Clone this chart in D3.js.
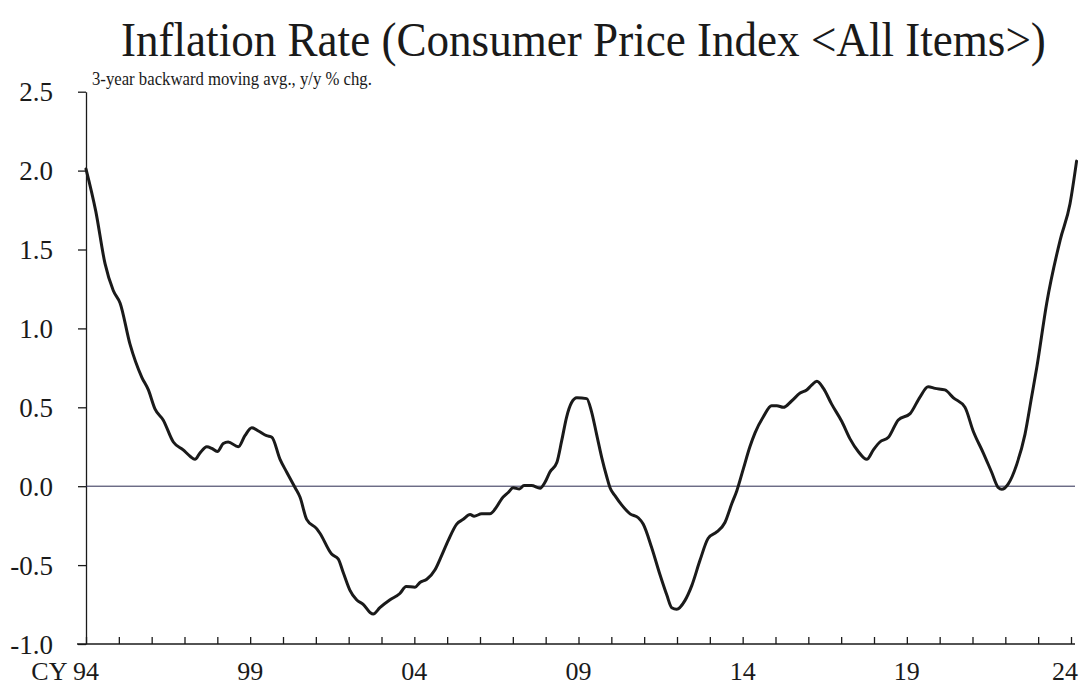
<!DOCTYPE html>
<html>
<head>
<meta charset="utf-8">
<script src="https://cdn.jsdelivr.net/npm/d3@7"></script>
<style>
  html, body { margin: 0; padding: 0; background: #fff; }
  svg { display: block; }
  text { font-family: "Liberation Serif", "Times New Roman", serif; fill: #1a1a1a; }
</style>
</head>
<body>
<svg id="chart" width="1086" height="689"></svg>
<script>
// ---- data (decimal year, y/y % chg, 3-year backward moving avg.) ----
const years = [
  1994.00, 1994.30, 1994.58, 1994.83, 1995.04, 1995.34, 1995.70, 1995.90, 1996.10, 1996.35,
  1996.66, 1996.96, 1997.17, 1997.32, 1997.47, 1997.68, 1997.83, 1998.00, 1998.18, 1998.33,
  1998.64, 1998.84, 1999.05, 1999.25, 1999.50, 1999.66, 1999.91, 2000.11, 2000.37, 2000.52,
  2000.72, 2001.03, 2001.13, 2001.48, 2001.68, 2001.84, 2002.04, 2002.24, 2002.45, 2002.65,
  2002.75, 2002.95, 2003.26, 2003.56, 2003.75, 2004.02, 2004.17, 2004.38, 2004.63, 2004.83,
  2005.03, 2005.29, 2005.49, 2005.70, 2005.82, 2006.05, 2006.30, 2006.51, 2006.66, 2006.86,
  2007.01, 2007.20, 2007.34, 2007.57, 2007.83, 2007.98, 2008.13, 2008.34, 2008.49, 2008.64,
  2008.79, 2008.95, 2009.25, 2009.40, 2009.55, 2009.71, 2009.86, 2009.96, 2010.11, 2010.32,
  2010.57, 2010.82, 2010.97, 2011.23, 2011.48, 2011.69, 2011.84, 2011.99, 2012.24, 2012.45,
  2012.70, 2012.95, 2013.21, 2013.46, 2013.67, 2013.82, 2014.02, 2014.22, 2014.38, 2014.63,
  2014.88, 2015.04, 2015.24, 2015.49, 2015.75, 2015.95, 2016.10, 2016.26, 2016.46, 2016.71,
  2017.02, 2017.27, 2017.52, 2017.78, 2017.98, 2018.18, 2018.44, 2018.74, 2019.10, 2019.40,
  2019.65, 2019.86, 2020.16, 2020.42, 2020.77, 2021.02, 2021.33, 2021.58, 2021.79, 2021.89,
  2022.09, 2022.35, 2022.60, 2022.80, 2022.96, 2023.26, 2023.67, 2023.97, 2024.17
];
const values = [
  2.01, 1.74, 1.41, 1.24, 1.16, 0.90, 0.69, 0.61, 0.49, 0.42,
  0.28, 0.23, 0.19, 0.17, 0.21, 0.25, 0.24, 0.22, 0.27, 0.28,
  0.25, 0.32, 0.37, 0.35, 0.32, 0.31, 0.17, 0.09, -0.01, -0.07,
  -0.21, -0.27, -0.30, -0.43, -0.46, -0.55, -0.66, -0.72, -0.75, -0.80,
  -0.81, -0.77, -0.72, -0.68, -0.635, -0.64, -0.61, -0.59, -0.53, -0.44,
  -0.345, -0.24, -0.21, -0.18, -0.19, -0.175, -0.175, -0.13, -0.08, -0.04,
  -0.01, -0.017, 0.004, 0.004, -0.013, 0.025, 0.09, 0.15, 0.29, 0.44,
  0.53, 0.56, 0.555, 0.47, 0.33, 0.18, 0.06, -0.01, -0.06, -0.12,
  -0.175, -0.20, -0.24, -0.39, -0.56, -0.69, -0.77, -0.78, -0.725, -0.63,
  -0.47, -0.33, -0.29, -0.23, -0.11, -0.03, 0.11, 0.25, 0.34, 0.44,
  0.51, 0.51, 0.50, 0.54, 0.59, 0.61, 0.64, 0.665, 0.62, 0.52,
  0.41, 0.30, 0.22, 0.17, 0.23, 0.28, 0.31, 0.42, 0.46, 0.565,
  0.63, 0.62, 0.61, 0.56, 0.50, 0.35, 0.21, 0.09, -0.01, -0.02,
  0.015, 0.14, 0.33, 0.565, 0.755, 1.16, 1.56, 1.79, 2.06
];
const yTicks = [-1.0, -0.5, 0.0, 0.5, 1.0, 1.5, 2.0, 2.5];
const xTickYears = d3.range(1994, 2025);
const xLabelYears = [1994, 1999, 2004, 2009, 2014, 2019, 2024];
const xLabelTexts = ["CY 94", "99", "04", "09", "14", "19", "24"];
const titleText = "Inflation Rate (Consumer Price Index <All Items>)";
const subtitleText = "3-year backward moving avg., y/y % chg.";

// ---- layout ----
const svg = d3.select("#chart");
const x = d3.scaleLinear().domain([1994, 2024]).range([86, 1071]);
const y = d3.scaleLinear().domain([-1.0, 2.5]).range([644, 91.7]);

// title (slightly condensed, fitted to the target width)
const titleG = svg.append("g");
const title = titleG.append("text")
  .attr("x", 0).attr("y", 0)
  .attr("font-size", 48)
  .text(titleText);
const tw = title.node().getComputedTextLength();
const sx = Math.min(1, 925 / tw);
titleG.attr("transform", `translate(121,56) scale(${sx},1)`);

// subtitle
const subG = svg.append("g");
const sub = subG.append("text")
  .attr("x", 0).attr("y", 0)
  .attr("font-size", 18.5)
  .text(subtitleText);
const sw = sub.node().getComputedTextLength();
subG.attr("transform", `translate(92,85) scale(${Math.min(1, 280 / sw)},1)`);

// y axis
const fmt = d3.format(".1f");
const yAxis = d3.axisLeft(y)
  .tickValues(yTicks)
  .tickFormat(d => fmt(d).replace("\u2212", "-"))
  .tickSize(8)
  .tickSizeOuter(0)
  .tickPadding(25);
const gy = svg.append("g").attr("transform", `translate(${x(1994)},0)`).call(yAxis);
gy.select(".domain").attr("stroke", "#1a1a1a").attr("stroke-width", 1.3);
gy.selectAll(".tick line").attr("stroke", "#1a1a1a").attr("stroke-width", 1.3);
gy.selectAll(".tick text")
  .attr("font-family", "'Liberation Serif', 'Times New Roman', serif")
  .attr("font-size", 27)
  .attr("fill", "#1a1a1a")
  .attr("dy", "0.34em");

// x axis (ticks pointing up, inside)
const xAxis = d3.axisBottom(x)
  .tickValues(xTickYears)
  .tickFormat("")
  .tickSize(-7)
  .tickSizeOuter(0);
const gx = svg.append("g").attr("transform", `translate(0,${y(-1.0)})`).call(xAxis);
gx.select(".domain").remove();
gx.selectAll(".tick line").attr("stroke", "#1a1a1a").attr("stroke-width", 1.3);
gx.append("line")
  .attr("x1", x(1994) - 9).attr("x2", x(2024) + 4)
  .attr("y1", 0).attr("y2", 0)
  .attr("stroke", "#1a1a1a").attr("stroke-width", 1.3);

// x labels
svg.append("g").selectAll("text")
  .data(xLabelYears)
  .join("text")
  .attr("x", (d, i) => i === 0 ? x(d) + 13 : (i === xLabelYears.length - 1 ? x(d) - 6 : x(d)))
  .attr("y", y(-1.0) + 36)
  .attr("text-anchor", (d, i) => i === 0 ? "end" : "middle")
  .attr("font-size", 26)
  .text((d, i) => xLabelTexts[i]);

// zero line
svg.append("line")
  .attr("x1", x(1994)).attr("x2", x(2024) + 4)
  .attr("y1", y(0)).attr("y2", y(0))
  .attr("stroke", "#2a2a50").attr("stroke-width", 1);

// data line
const pts = years.map((t, i) => [t, values[i]]);
svg.append("path")
  .datum(pts)
  .attr("fill", "none")
  .attr("stroke", "#1a1a1a")
  .attr("stroke-width", 3)
  .attr("stroke-linejoin", "round")
  .attr("stroke-linecap", "round")
  .attr("d", d3.line().x(d => x(d[0])).y(d => y(d[1])).curve(d3.curveMonotoneX));
</script>
</body>
</html>
